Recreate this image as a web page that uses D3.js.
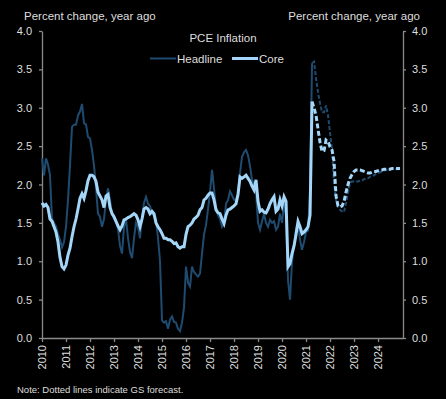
<!DOCTYPE html>
<html>
<head>
<meta charset="utf-8">
<script src="https://cdn.jsdelivr.net/npm/d3@7"></script>
<style>
  html, body { margin: 0; padding: 0; background: #000; }
  svg { display: block; font-family: 'Liberation Sans', Arial, sans-serif; }
</style>
</head>
<body>
<div id="chart"></div>
<script>
// monthly, Jan 2010 .. Apr 2021 (actual)
const headlineActual = [
  2.34, 2.12, 2.34, 2.26, 2.12, 1.55, 1.5, 1.45, 1.35, 1.28, 1.18, 1.25,
  1.45, 1.8, 2.25, 2.75, 2.78, 2.78, 2.9, 2.95, 3.05, 2.8, 2.78, 2.62,
  2.6, 2.45, 2.25, 1.95, 1.62, 1.58, 1.45, 1.55, 1.8, 1.95, 1.8, 1.62,
  1.55, 1.52, 1.42, 1.2, 1.1, 1.45, 1.55, 1.3, 1.12, 1.04, 1.3, 1.5,
  1.45, 1.3, 1.58, 1.76, 1.84, 1.75, 1.72, 1.62, 1.6, 1.52, 1.3, 1.0,
  0.23, 0.2, 0.22, 0.12, 0.24, 0.28, 0.21, 0.2, 0.12, 0.09, 0.2, 0.4,
  0.93, 0.72, 0.67, 0.93, 0.86, 0.83, 0.8, 0.84, 1.1, 1.35, 1.47, 1.68,
  1.9, 2.19, 1.95, 1.7, 1.6, 1.55, 1.45, 1.5, 1.75, 1.8, 1.91, 1.86,
  1.8, 1.8, 1.9, 2.15, 2.36, 2.42, 2.45, 2.38, 2.24, 2.06, 2.0, 1.9,
  1.5, 1.41, 1.52, 1.62, 1.5, 1.45, 1.54, 1.5, 1.52, 1.41, 1.45, 1.62,
  1.5, 1.75, 1.6, 0.75, 0.5, 1.0, 1.2, 1.42, 1.5, 1.28, 1.15, 1.25,
  1.38, 1.4, 1.9, 3.58
];
const coreActual = [
  1.76, 1.72, 1.74, 1.7, 1.55, 1.52, 1.45, 1.38, 1.25, 1.05, 0.93, 0.9,
  0.95, 1.08, 1.17, 1.32, 1.45, 1.55, 1.68, 1.82, 1.88, 1.82, 1.92, 2.05,
  2.12, 2.12, 2.1, 2.04, 1.9, 1.85, 1.8, 1.7, 1.85, 1.87, 1.7, 1.62,
  1.58, 1.52, 1.46, 1.41, 1.46, 1.54, 1.55, 1.57, 1.58, 1.6, 1.62, 1.6,
  1.54, 1.45, 1.55, 1.68, 1.7, 1.68, 1.62, 1.65, 1.62, 1.5, 1.45, 1.41,
  1.36, 1.3, 1.3, 1.28, 1.28, 1.26, 1.23, 1.24, 1.19, 1.17, 1.19, 1.19,
  1.35, 1.45, 1.47, 1.5, 1.55, 1.57, 1.6, 1.67, 1.7, 1.8, 1.82, 1.86,
  1.89, 1.89, 1.8, 1.67, 1.63, 1.62, 1.55, 1.49, 1.6, 1.67, 1.68, 1.7,
  1.72, 1.75, 1.87, 2.1, 2.08, 2.1, 2.12, 2.08, 2.04, 1.98, 1.93, 2.06,
  1.78, 1.65, 1.67, 1.64, 1.63, 1.68, 1.75, 1.8, 1.84, 1.65, 1.68, 1.8,
  1.72, 1.84, 1.78, 0.93, 0.97, 1.1, 1.2, 1.35, 1.52, 1.45, 1.36, 1.38,
  1.41, 1.45, 1.6, 3.08
];
// GS forecast, Apr 2021 .. Dec 2024
const headlineForecast = [
  3.58, 3.6, 3.38, 3.2, 3.06, 2.94, 2.94, 3.03, 2.9, 2.67, 2.45, 2.02,
  1.8, 1.72, 1.67, 1.65, 1.64, 1.76, 1.9, 2.02, 2.04, 2.04, 2.04, 2.04,
  2.05, 2.05, 2.07, 2.08, 2.08, 2.1, 2.11, 2.12, 2.14, 2.15, 2.16, 2.17,
  2.18, 2.19, 2.19, 2.2, 2.2, 2.2, 2.2, 2.2, 2.2
];
const coreForecast = [
  3.08, 3.0, 2.9, 2.72, 2.55, 2.43, 2.44, 2.58, 2.56, 2.49, 2.45, 2.3,
  1.85, 1.72, 1.71, 1.72, 1.78, 1.9, 2.0, 2.08, 2.13, 2.17, 2.19, 2.19,
  2.19, 2.18, 2.17, 2.16, 2.15, 2.15, 2.16, 2.17, 2.17, 2.18, 2.19, 2.19,
  2.2, 2.2, 2.2, 2.2, 2.21, 2.21, 2.21, 2.21, 2.21
];
const startYear = 2010;
const forecastStart = headlineActual.length - 1; // month index of Apr 2021
const yearTicks = d3.range(2010, 2025);
const valueTicks = d3.range(0, 4.01, 0.5);

const W = 446, H = 399;
const margin = { top: 31, right: 43, bottom: 61, left: 42 };
const width = W - margin.left - margin.right;
const height = H - margin.top - margin.bottom;

const headColor = '#1e4b6f';
const coreColor = '#a3d6f8';
const axisColor = '#8a8a8a';
const textColor = '#dedede';

const svg = d3.select('#chart').append('svg')
  .attr('width', W)
  .attr('height', H);

svg.append('rect').attr('width', W).attr('height', H).attr('fill', '#000');

const g = svg.append('g')
  .attr('transform', `translate(${margin.left},${margin.top})`);

// scales
const x = d3.scaleLinear()
  .domain([startYear, 2025.04])
  .range([0, width]);
const y = d3.scaleLinear()
  .domain([0, 4])
  .range([height, 0]);

const toPoints = (arr, offset) => arr.map((v, i) => ({ t: startYear + (i + offset) / 12, v }));

const line = d3.line()
  .x(d => x(d.t))
  .y(d => y(d.v));

// axes
const fmt = d3.format('.1f');
const leftAxis = g.append('g')
  .call(d3.axisLeft(y).tickValues(valueTicks).tickFormat(fmt).tickSize(3).tickSizeOuter(0).tickPadding(7));
const rightAxis = g.append('g')
  .attr('transform', `translate(${width},0)`)
  .call(d3.axisRight(y).tickValues(valueTicks).tickFormat(fmt).tickSize(3).tickSizeOuter(0).tickPadding(6));
const bottomAxis = g.append('g')
  .attr('transform', `translate(0,${height})`)
  .call(d3.axisBottom(x).tickValues(yearTicks).tickFormat(d3.format('d')).tickSize(4).tickSizeOuter(0));

bottomAxis.selectAll('text')
  .attr('transform', 'rotate(-90)')
  .attr('text-anchor', 'end')
  .attr('x', -7)
  .attr('y', 0)
  .attr('dy', '0.35em');

[leftAxis, rightAxis, bottomAxis].forEach(a => {
  a.selectAll('path, line').attr('stroke', axisColor).attr('stroke-width', 1.3);
  a.selectAll('text')
    .attr('fill', textColor)
    .style('font-size', '11px')
    .style('font-family', "'Liberation Sans', Arial, sans-serif");
});

// series
g.append('path')
  .datum(toPoints(headlineActual, 0))
  .attr('fill', 'none')
  .attr('stroke', headColor)
  .attr('stroke-width', 2)
  .attr('d', line);
g.append('path')
  .datum(toPoints(headlineForecast, forecastStart))
  .attr('fill', 'none')
  .attr('stroke', headColor)
  .attr('stroke-width', 2)
  .attr('stroke-dasharray', '4,2')
  .attr('d', line);
g.append('path')
  .datum(toPoints(coreActual, 0))
  .attr('fill', 'none')
  .attr('stroke', coreColor)
  .attr('stroke-width', 3)
  .attr('d', line);
g.append('path')
  .datum(toPoints(coreForecast, forecastStart))
  .attr('fill', 'none')
  .attr('stroke', coreColor)
  .attr('stroke-width', 3)
  .attr('stroke-dasharray', '5,2.5')
  .attr('d', line);

// axis titles
svg.append('text')
  .attr('x', 24).attr('y', 19.5)
  .attr('fill', textColor)
  .style('font-size', '11.5px')
  .text('Percent change, year ago');
svg.append('text')
  .attr('x', 420).attr('y', 19.5)
  .attr('text-anchor', 'end')
  .attr('fill', textColor)
  .style('font-size', '11.5px')
  .text('Percent change, year ago');

// title
svg.append('text')
  .attr('x', 223).attr('y', 41.5)
  .attr('text-anchor', 'middle')
  .attr('fill', textColor)
  .style('font-size', '11.5px')
  .text('PCE Inflation');

// legend
const legend = [
  { name: 'Headline', color: headColor, w: 2, x0: 150 },
  { name: 'Core', color: coreColor, w: 3, x0: 232 }
];
legend.forEach(l => {
  svg.append('line')
    .attr('x1', l.x0).attr('x2', l.x0 + 26)
    .attr('y1', 58.5).attr('y2', 58.5)
    .attr('stroke', l.color)
    .attr('stroke-width', l.w);
  svg.append('text')
    .attr('x', l.x0 + 27).attr('y', 62.5)
    .attr('fill', textColor)
    .style('font-size', '11.5px')
    .text(l.name);
});

// note
svg.append('text')
  .attr('x', 17).attr('y', 392.5)
  .attr('fill', textColor)
  .style('font-size', '9.5px')
  .text('Note: Dotted lines indicate GS forecast.');
</script>
</body>
</html>
